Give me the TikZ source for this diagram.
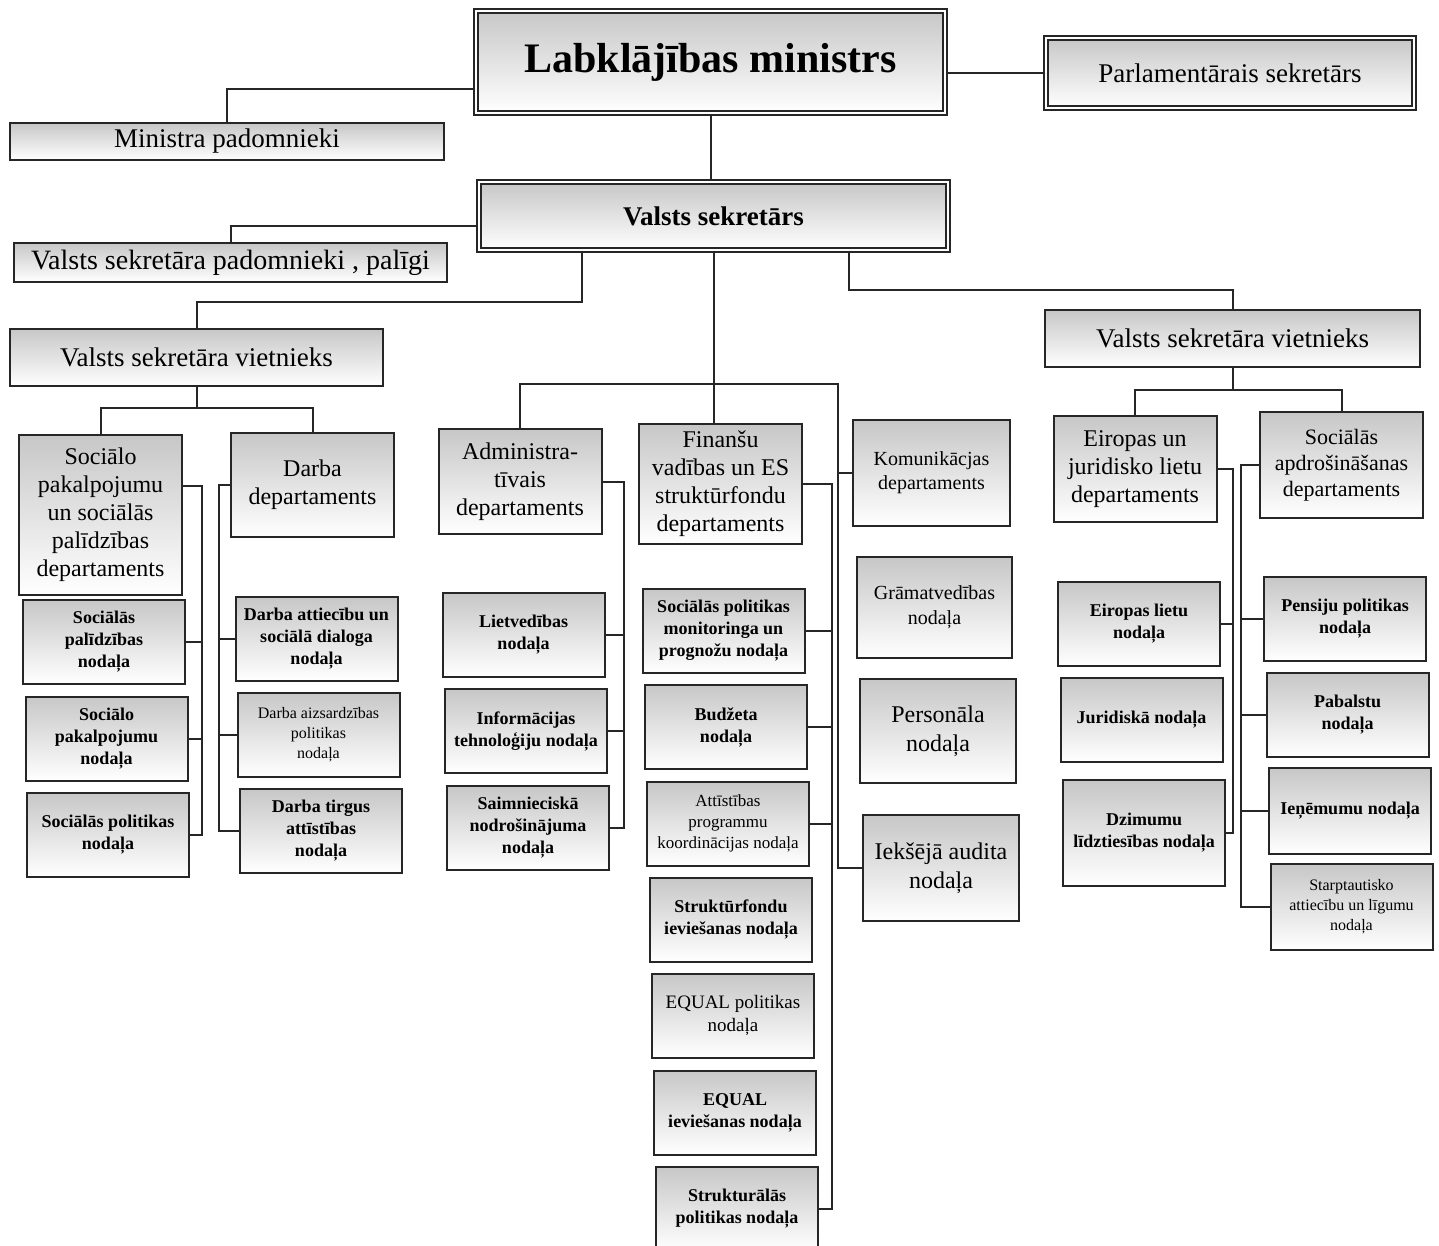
\documentclass[tikz,border=0pt]{standalone}
\usepackage{fontspec}
\setmainfont{Liberation Serif}
\usetikzlibrary{positioning}

\tikzset{
  link/.style={draw=black!85, line width=2pt},
  box/.style={draw=black!85, line width=2pt, inner sep=2pt, align=center, text=black,
    top color=black!22, bottom color=white},
  head/.style={box, double, double distance=2.4pt, line width=1.4pt},
  dep/.style={box, minimum width=163pt, minimum height=106pt, font=\fontsize{24}{28}\selectfont},
  nod/.style={box, minimum width=162pt, minimum height=84pt, font=\fontsize{18}{22}\selectfont\bfseries},
  nodl/.style={nod, font=\fontsize{17}{21}\selectfont},
  nodb/.style={nod, minimum height=104pt, font=\fontsize{24}{29}\selectfont}
}

\begin{document}
\begin{tikzpicture}[x=1pt, y=-1pt]
  \useasboundingbox (0,0) rectangle (1439,1245);
  \clip (0,0) rectangle (1439,1245);

  % ministrs un sekretari
  \node[head, minimum width=469pt, minimum height=102pt, font=\fontsize{42}{48}\selectfont\bfseries] (min) at (710.5,62) {Labklājības ministrs};
  \node[head, minimum width=368pt, minimum height=70pt, font=\fontsize{27}{32}\selectfont] (parl) at (1230,73) {Parlamentārais sekretārs};
  \node[box, minimum width=434pt, minimum height=37pt, font=\fontsize{27}{32}\selectfont] (minpad) at (227,141.5) {Ministra padomnieki};
  \node[head, minimum width=469pt, minimum height=68pt, font=\fontsize{27}{32}\selectfont\bfseries] (vs) at (713.5,216) {Valsts sekretārs};
  \node[box, minimum width=433pt, minimum height=39pt, font=\fontsize{28}{32}\selectfont] (vspad) at (230.5,262.5) {Valsts sekretāra padomnieki , palīgi};
  \node[box, minimum width=373pt, minimum height=57pt, font=\fontsize{27}{32}\selectfont] (vsvl) at (196.5,357.5) {Valsts sekretāra vietnieks};
  \node[box, minimum width=375pt, minimum height=57pt, font=\fontsize{27}{32}\selectfont] (vsvr) at (1232.5,338.5) {Valsts sekretāra vietnieks};

  % departamenti
  \node[dep, minimum height=160pt] (socdep) at (100.5,515) {Sociālo\\pakalpojumu\\un sociālās\\palīdzības\\departaments};
  \node[dep, minimum height=104pt] (darbdep) at (312.5,485) {Darba\\departaments};
  \node[dep, minimum height=105pt] (adm) at (520,481.5) {Administra-\\tīvais\\departaments};
  \node[dep, minimum height=120pt] (fin) at (720.5,484) {Finanšu\\vadības un ES\\struktūrfondu\\departaments};
  \node[dep, minimum width=157pt, font=\fontsize{20}{24}\selectfont] (kom) at (931.5,473) {Komunikācjas\\departaments};
  \node[dep] (eudep) at (1135,469) {Eiropas un\\juridisko lietu\\departaments};
  \node[dep, font=\fontsize{22}{26}\selectfont] (sadep) at (1341.5,465) {Sociālās\\apdrošināšanas\\departaments};

  % nodalas
  \node[nod] (socpal) at (104,642) {Sociālās\\palīdzības\\nodaļa};
  \node[nod] (socpaknod) at (106.5,738.5) {Sociālo\\pakalpojumu\\nodaļa};
  \node[nod] (socpol) at (108,835) {Sociālās politikas\\nodaļa};
  \node[nod] (darbatt) at (316.5,639) {Darba attiecību un\\sociālā dialoga\\nodaļa};
  \node[nodl, font=\fontsize{16}{20}\selectfont] (darbaiz) at (318.5,734.5) {Darba aizsardzības\\politikas\\nodaļa};
  \node[nod] (darbtirg) at (321,831) {Darba tirgus\\attīstības\\nodaļa};
  \node[nod] (liet) at (523.5,635) {Lietvedības\\nodaļa};
  \node[nod] (info) at (526,731) {Informācijas\\tehnoloģiju nodaļa};
  \node[nod] (saim) at (528,828) {Saimnieciskā\\nodrošinājuma\\nodaļa};
  \node[nod] (socmon) at (723.5,631) {Sociālās politikas\\monitoringa un\\prognožu nodaļa};
  \node[nod] (budz) at (726,727) {Budžeta\\nodaļa};
  \node[nodl] (attist) at (728,823.5) {Attīstības\\programmu\\koordinācijas nodaļa};
  \node[nod] (strfon) at (731,919.5) {Struktūrfondu\\ieviešanas nodaļa};
  \node[nodl, font=\fontsize{19}{23}\selectfont] (eqpol) at (733,1015.5) {EQUAL politikas\\nodaļa};
  \node[nod] (eqiev) at (735,1112.5) {EQUAL\\ieviešanas nodaļa};
  \node[nod] (strpol) at (737,1209) {Strukturālās\\politikas nodaļa};
  \node[nodb, minimum width=155pt, minimum height=101pt, font=\fontsize{20}{25}\selectfont] (gram) at (934.5,607.5) {Grāmatvedības\\nodaļa};
  \node[nodb, minimum width=156pt] (pers) at (938,731) {Personāla\\nodaļa};
  \node[nodb, minimum width=156pt, minimum height=106pt] (iek) at (941,868) {Iekšējā audita\\nodaļa};
  \node[nod] (eulietu) at (1139,624) {Eiropas lietu\\nodaļa};
  \node[nod] (jurid) at (1141.5,720) {Juridiskā nodaļa};
  \node[nod, minimum height=106pt] (dzim) at (1144,833) {Dzimumu\\līdztiesības nodaļa};
  \node[nod] (pens) at (1345,619) {Pensiju politikas\\nodaļa};
  \node[nod] (pabal) at (1347.5,715) {Pabalstu\\nodaļa};
  \node[nod, minimum height=86pt] (ienem) at (1350,811) {Ieņēmumu nodaļa};
  \node[nodl, minimum height=86pt, font=\fontsize{16}{20}\selectfont] (starpt) at (1351.5,907) {Starptautisko\\attiecību un līgumu\\nodaļa};

  % savienojumi augsa
  \draw[link] (parl.west) -- (parl.west -| min.east);
  \draw[link] ([yshift=-27pt]min.west) -| (minpad.north);
  \draw[link] (min.south) -- (min.south |- vs.north);
  \draw[link] ([yshift=-10pt]vs.west) -| (vspad.north);
  \draw[link] ([xshift=-131.5pt]vs.south) -- ++(0,51) -| (vsvl.north);
  \draw[link] ([xshift=135pt]vs.south) -- ++(0,39) -| (vsvr.north);
  \draw[link] (vsvl.south) -- ++(0,21) coordinate (lj);
  \draw[link] (socdep.north) |- (lj) -| (darbdep.north);
  \draw[link] (vsvr.south) -- ++(0,22) coordinate (rj);
  \draw[link] (eudep.north) |- (rj) -| (sadep.north);
  \draw[link] (vs.south) -- (vs.south |- fin.north);
  \coordinate (cbus) at ([xshift=-24pt]iek.west);
  \draw[link] (adm.north) -- ++(0,-44) -| (cbus) -- (iek.west);
  \draw[link] (kom.west) -- (kom.west -| cbus);

  % nodalu kopnes
  \coordinate (sbus) at ([xshift=12pt]socpol.east);
  \draw[link] ([yshift=29pt]socdep.east) -| (sbus) -- (socpol.east);
  \foreach \n in {socpal,socpaknod}
    \draw[link] (\n.east) -- (\n.east -| sbus);
  \coordinate (dbus) at ([xshift=-20pt]darbtirg.west);
  \draw[link] (darbdep.west) -| (dbus) -- (darbtirg.west);
  \foreach \n in {darbatt,darbaiz}
    \draw[link] (\n.west) -- (\n.west -| dbus);
  \coordinate (abus) at ([xshift=14pt]saim.east);
  \draw[link] (adm.east) -| (abus) -- (saim.east);
  \foreach \n in {liet,info}
    \draw[link] (\n.east) -- (\n.east -| abus);
  \coordinate (fbus) at ([xshift=13pt]strpol.east);
  \draw[link] (fin.east) -| (fbus) -- (strpol.east);
  \foreach \n in {socmon,budz,attist}
    \draw[link] (\n.east) -- (\n.east -| fbus);
  \coordinate (ebus) at ([xshift=7pt]dzim.east);
  \draw[link] (eudep.east) -| (ebus) -- (dzim.east);
  \draw[link] (eulietu.east) -- (eulietu.east -| ebus);
  \coordinate (pbus) at ([xshift=-29pt]starpt.west);
  \draw[link] (sadep.west) -| (pbus) -- (starpt.west);
  \foreach \n in {pens,pabal,ienem}
    \draw[link] (\n.west) -- (\n.west -| pbus);
\end{tikzpicture}
\end{document}
